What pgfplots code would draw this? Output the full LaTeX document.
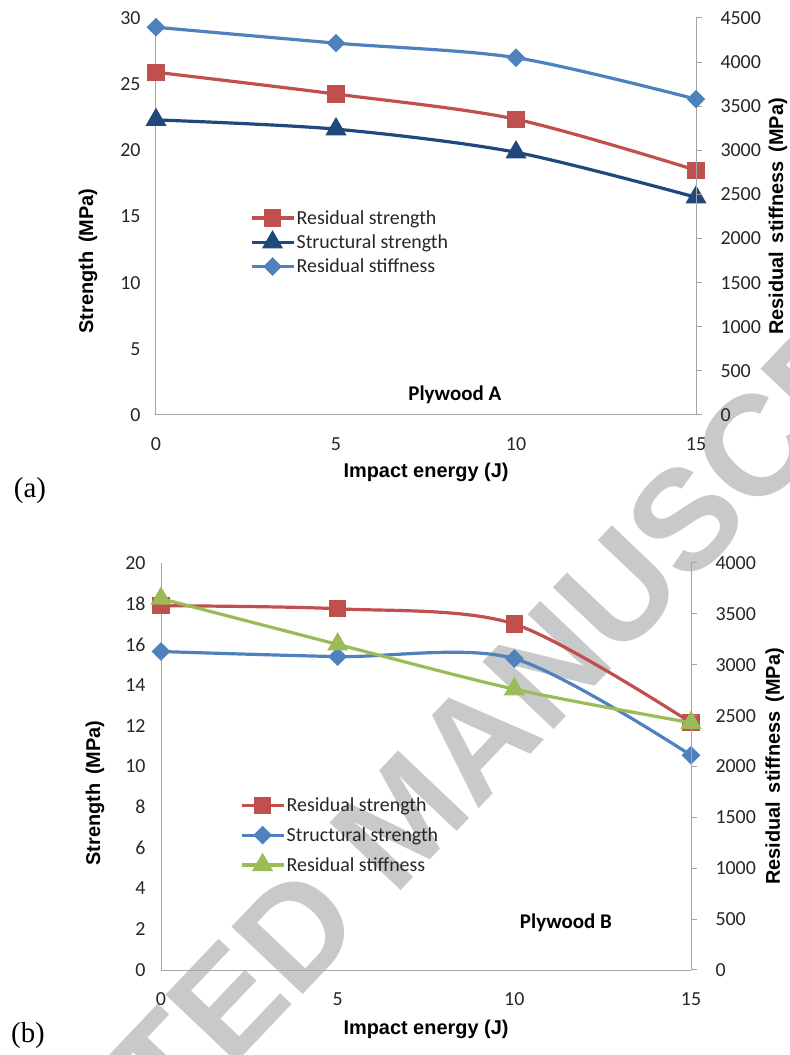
\documentclass[border=0pt]{standalone}
\usepackage{pgfplots}
\pgfplotsset{compat=1.18}
\usepackage{fontspec}
\setmainfont{Carlito}
\newfontfamily\arialf{Liberation Sans}
\newfontfamily\timesf{Liberation Serif}

\definecolor{xred}{RGB}{192,80,77}
\definecolor{xdblue}{RGB}{31,73,125}
\definecolor{xblue}{RGB}{79,129,189}
\definecolor{xgreen}{RGB}{155,187,89}
\definecolor{axgray}{RGB}{165,165,165}
\definecolor{wmgray}{RGB}{200,201,203}

\newcommand{\labfont}{\arialf\bfseries\fontsize{20}{24}\selectfont}

\pgfplotsset{
  base/.style={
    scale only axis, xmin=0, xmax=15, clip=false,
    /pgf/number format/assume math mode=true,
    /pgf/number format/1000 sep={},
    scaled y ticks=false,
    tick label style={font=\fontsize{20}{24}\selectfont, text=black!85},
    axis line style={draw=axgray, line width=1bp},
    tick style={draw=axgray, line width=1bp},
    legend image code/.code={\draw[mark repeat=2, mark phase=2, ##1] plot coordinates {(0bp,0bp) (21bp,0bp) (42bp,0bp)};},
  },
  leftax/.style={base, axis x line*=bottom, axis y line*=left, major tick length=0pt,
    xtick={0,5,10,15},
    xticklabel style={yshift=-19bp},
    yticklabel style={xshift=-12bp}},
  rightax/.style={base, axis x line=none, axis y line*=right, tick align=outside, major tick length=6bp,
    yticklabel shift=15bp},
  rs/.style={xred, line width=3.2bp, smooth, mark=square*, mark size=7bp, mark options={solid}},
  ssa/.style={xdblue, line width=3.2bp, smooth, mark=triangle*, mark size=9bp},
  rsta/.style={xblue, line width=3.2bp, smooth, mark=square*, mark size=5bp, mark options={rotate=45}},
  ssb/.style={xblue, line width=3.2bp, smooth, mark=square*, mark size=5bp, mark options={rotate=45}},
  rstb/.style={xgreen, line width=3.2bp, smooth, mark=triangle*, mark size=9bp},
}

\begin{document}
\begin{tikzpicture}
\useasboundingbox (0,0) rectangle (790bp,1055bp);

% watermark, behind the charts
\begin{scope}[every node/.style={rotate=46.5, text=wmgray, inner sep=0,
    font=\arialf\bfseries\fontsize{143}{143}\selectfont}]
  \node[anchor=west] at (359bp,191.5bp) {MANUSCRIPT};
  \node[anchor=east] at (331.5bp,162.5bp) {ACCEPTED};
\end{scope}

% ---------- panel (a) ----------
\begin{axis}[leftax, at={(156bp,640bp)}, anchor=south west, width=540bp, height=397bp,
  ymin=0, ymax=30, ytick={0,5,...,30},
  xlabel={Impact energy (J)}, ylabel={Strength\, (MPa)},
  every axis x label/.style={at={(axis description cs:0.5,-0.1436)}, anchor=center, font=\labfont},
  every axis y label/.style={at={(axis description cs:-0.126,0.388)}, anchor=center, rotate=90, font=\labfont}]
  \addplot[rs] coordinates {(0,25.9) (5,24.25) (10,22.35) (15,18.5)};
  \addplot[ssa] coordinates {(0,22.3) (5,21.6) (10,19.85) (15,16.45)};
  \node[font=\bfseries\fontsize{21}{24}\selectfont] at (axis cs:8.3,1.5) {Plywood A};
\end{axis}
\begin{axis}[rightax, at={(156bp,640bp)}, anchor=south west, width=540bp, height=397bp,
  ymin=0, ymax=4500, ytick={0,500,...,4500},
  ylabel={Residual\, stiffness\, (MPa)},
  every axis y label/.style={at={(axis description cs:1.152,0.5)}, anchor=center, rotate=90, font=\labfont},
  legend style={at={(axis description cs:0.168,0.525)}, anchor=north west, draw=none, fill=none,
    font=\fontsize{20}{24}\selectfont, text=black!85, row sep=6bp, nodes={inner sep=1.5bp}},
  legend cell align=left]
  \addlegendimage{rs}
  \addlegendentry{Residual strength}
  \addlegendimage{ssa}
  \addlegendentry{Structural strength}
  \addplot[rsta] coordinates {(0,4395) (5,4215) (10,4050) (15,3580)};
  \addlegendentry{Residual stiffness}
\end{axis}

% ---------- panel (b) ----------
\begin{axis}[leftax, at={(161bp,85bp)}, anchor=south west, width=530bp, height=407bp,
  ymin=0, ymax=20, ytick={0,2,...,20},
  xlabel={Impact energy (J)}, ylabel={Strength\, (MPa)},
  every axis x label/.style={at={(axis description cs:0.5,-0.145)}, anchor=center, font=\labfont},
  every axis y label/.style={at={(axis description cs:-0.1245,0.435)}, anchor=center, rotate=90, font=\labfont}]
  \addplot[rs] coordinates {(0,17.9) (5,17.75) (10,17.0) (15,12.15)};
  \addplot[ssb] coordinates {(0,15.65) (5,15.4) (10,15.3) (15,10.55)};
  \node[font=\bfseries\fontsize{21}{24}\selectfont] at (axis cs:11.46,2.3) {Plywood B};
\end{axis}
\begin{axis}[rightax, at={(161bp,85bp)}, anchor=south west, width=530bp, height=407bp,
  ymin=0, ymax=4000, ytick={0,500,...,4000},
  ylabel={Residual\, stiffness\, (MPa)},
  every axis y label/.style={at={(axis description cs:1.158,0.5)}, anchor=center, rotate=90, font=\labfont},
  legend style={at={(axis description cs:0.143,0.4326)}, anchor=north west, draw=none, fill=none,
    font=\fontsize{20}{24}\selectfont, text=black!85, row sep=11.5bp, nodes={inner sep=1.5bp}},
  legend cell align=left]
  \addlegendimage{rs}
  \addlegendentry{Residual strength}
  \addlegendimage{ssb}
  \addlegendentry{Structural strength}
  \addplot[rstb] coordinates {(0,3650) (5,3200) (10,2760) (15,2430)};
  \addlegendentry{Residual stiffness}
\end{axis}

\node[font=\timesf\fontsize{29}{32}\selectfont] at (30bp,564bp) {(a)};
\node[font=\timesf\fontsize{29}{32}\selectfont] at (28bp,19bp) {(b)};
\end{tikzpicture}
\end{document}
